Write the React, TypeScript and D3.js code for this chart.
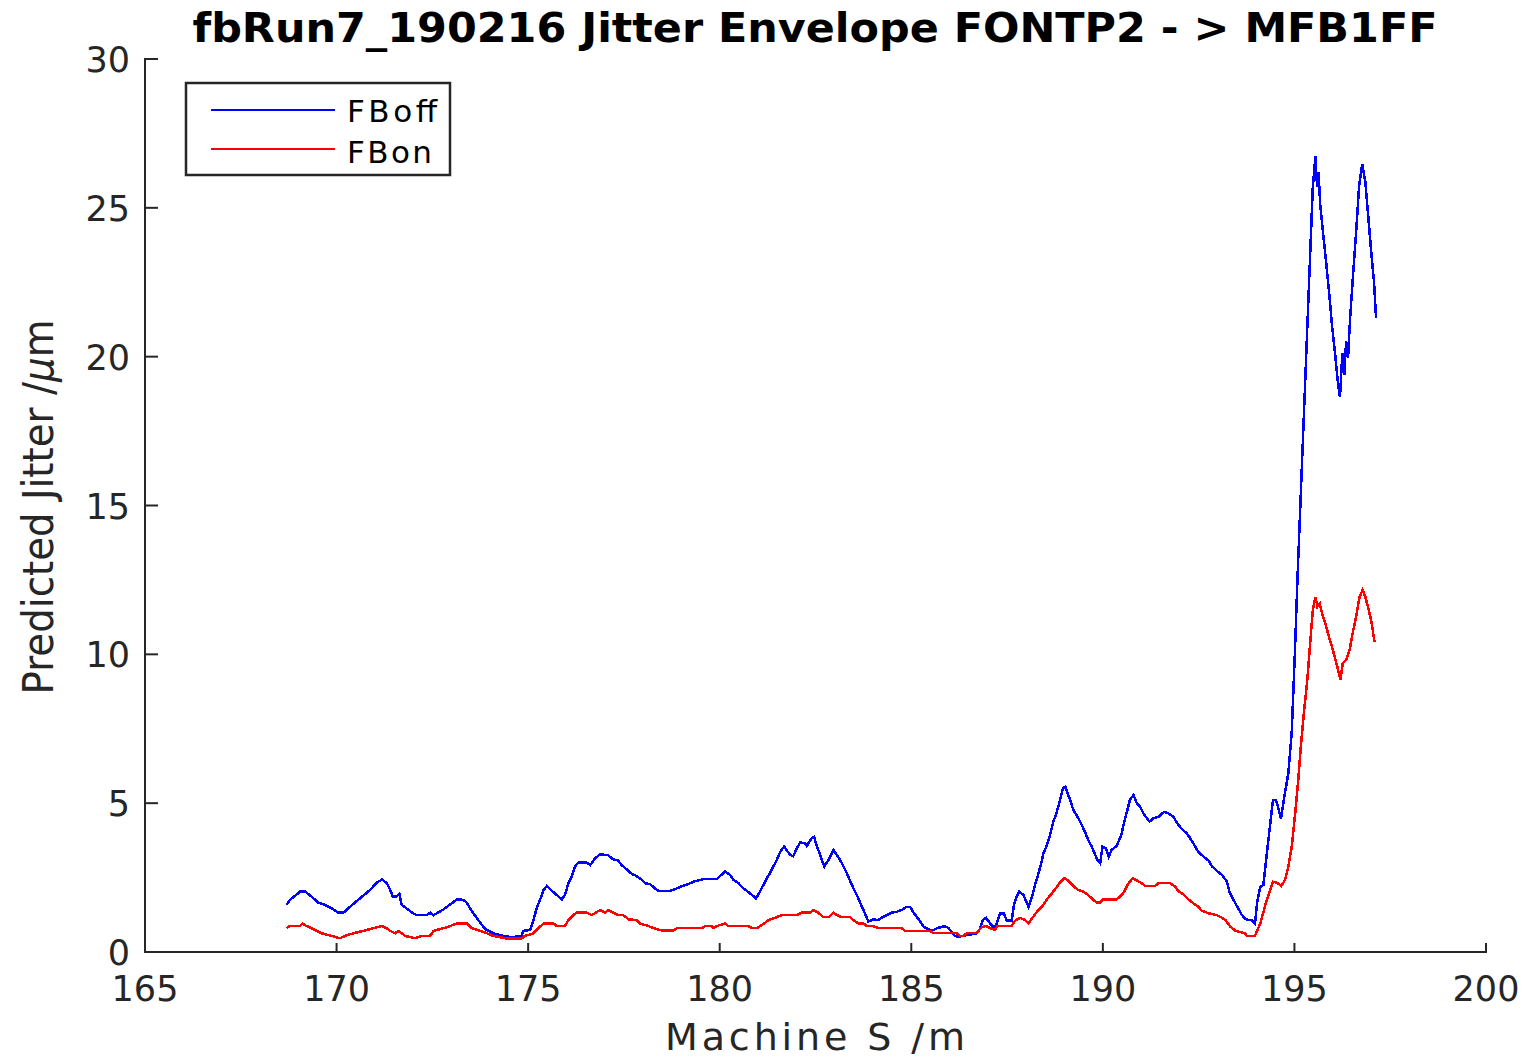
import React from "react";
import * as d3 from "d3";

const title = "fbRun7_190216 Jitter Envelope FONTP2 - > MFB1FF";
const xLabel = "Machine S /m";
const xTicks = [165, 170, 175, 180, 185, 190, 195, 200];
const yTicks = [0, 5, 10, 15, 20, 25, 30];
const seriesNames = ["FBoff", "FBon"];
const seriesColors = ["#0000ff", "#ff0000"];

const fbOff: [number, number][] = [
  [168.70,1.58],[168.78,1.75],[169.05,2.03],[169.18,2.03],[169.35,1.86],[169.52,1.66],[169.70,1.58],[169.87,1.47],[170.05,1.32],[170.18,1.32],[170.35,1.52],[170.61,1.80],[170.87,2.08],[171.05,2.33],[171.19,2.44],[171.31,2.31],[171.38,2.14],[171.47,1.86],[171.55,1.86],[171.64,1.95],[171.70,1.58],[171.79,1.50],[172.00,1.30],[172.09,1.24],[172.35,1.24],[172.44,1.32],[172.53,1.24],[172.79,1.43],[173.01,1.64],[173.14,1.77],[173.31,1.75],[173.40,1.66],[173.48,1.47],[173.70,1.07],[173.83,0.85],[173.92,0.74],[174.09,0.63],[174.35,0.54],[174.58,0.50],[174.83,0.54],[174.87,0.71],[175.05,0.74],[175.14,1.07],[175.22,1.47],[175.31,1.75],[175.40,2.08],[175.49,2.22],[175.57,2.11],[175.75,1.91],[175.88,1.77],[175.96,1.91],[176.05,2.31],[176.14,2.53],[176.22,2.87],[176.31,3.0],[176.53,3.0],[176.62,2.92],[176.75,3.15],[176.88,3.28],[177.09,3.25],[177.22,3.11],[177.35,3.07],[177.44,2.92],[177.57,2.78],[177.70,2.63],[177.83,2.55],[177.97,2.42],[178.05,2.31],[178.18,2.28],[178.31,2.14],[178.40,2.05],[178.70,2.05],[178.83,2.11],[178.97,2.19],[179.18,2.28],[179.31,2.36],[179.57,2.45],[179.92,2.45],[180.01,2.55],[180.14,2.70],[180.27,2.59],[180.36,2.42],[180.49,2.31],[180.62,2.14],[180.79,1.97],[180.95,1.80],[181.05,2.03],[181.14,2.25],[181.23,2.48],[181.31,2.64],[181.40,2.87],[181.49,3.09],[181.58,3.37],[181.68,3.54],[181.84,3.26],[181.92,3.22],[182.01,3.48],[182.10,3.68],[182.23,3.65],[182.27,3.56],[182.40,3.82],[182.46,3.87],[182.53,3.59],[182.62,3.26],[182.73,2.87],[182.84,3.09],[182.97,3.43],[183.06,3.26],[183.19,2.98],[183.32,2.64],[183.45,2.25],[183.58,1.91],[183.71,1.52],[183.79,1.30],[183.88,1.02],[184.01,1.10],[184.14,1.07],[184.23,1.15],[184.36,1.24],[184.49,1.32],[184.62,1.35],[184.75,1.41],[184.88,1.52],[184.97,1.52],[185.06,1.32],[185.19,1.10],[185.32,0.85],[185.54,0.71],[185.67,0.80],[185.88,0.87],[185.97,0.80],[186.06,0.68],[186.14,0.54],[186.23,0.51],[186.50,0.58],[186.72,0.63],[186.80,0.80],[186.87,1.07],[186.95,1.15],[187.06,0.96],[187.17,0.80],[187.23,0.96],[187.32,1.30],[187.42,1.30],[187.49,1.05],[187.62,1.05],[187.68,1.58],[187.75,1.86],[187.82,2.03],[187.93,1.91],[188.02,1.64],[188.06,1.52],[188.15,1.86],[188.23,2.25],[188.32,2.64],[188.39,2.98],[188.45,3.32],[188.54,3.59],[188.62,3.93],[188.71,4.38],[188.80,4.71],[188.87,5.05],[188.96,5.50],[189.02,5.55],[189.13,5.16],[189.23,4.77],[189.34,4.54],[189.45,4.27],[189.54,4.01],[189.62,3.76],[189.71,3.54],[189.80,3.26],[189.86,3.09],[189.93,2.98],[189.99,3.54],[190.08,3.48],[190.15,3.20],[190.23,3.43],[190.36,3.56],[190.48,3.93],[190.56,4.38],[190.64,4.77],[190.71,5.13],[190.80,5.27],[190.89,4.99],[190.97,4.88],[191.06,4.66],[191.15,4.49],[191.22,4.38],[191.32,4.49],[191.45,4.54],[191.60,4.71],[191.71,4.66],[191.84,4.54],[191.97,4.27],[192.09,4.10],[192.19,3.99],[192.28,3.82],[192.36,3.65],[192.49,3.37],[192.63,3.20],[192.76,3.07],[192.84,2.89],[192.97,2.73],[193.11,2.59],[193.24,2.36],[193.30,2.03],[193.41,1.75],[193.51,1.52],[193.63,1.24],[193.71,1.13],[193.80,1.07],[193.89,1.07],[193.97,0.96],[194.03,1.69],[194.11,2.19],[194.19,2.25],[194.28,3.31],[194.37,4.32],[194.44,5.11],[194.52,5.11],[194.58,4.83],[194.65,4.49],[194.73,5.16],[194.84,6.00],[194.93,7.40],[195.01,9.98],[195.08,12.56],[195.16,15.18],[195.24,17.81],[195.32,20.46],[195.40,23.08],[195.48,25.71],[195.55,26.74],[195.59,25.70],[195.63,26.20],[195.67,25.16],[195.75,24.12],[195.83,23.14],[195.91,22.10],[195.98,21.06],[196.06,20.12],[196.14,19.05],[196.19,18.64],[196.25,20.12],[196.30,19.38],[196.35,20.52],[196.40,19.95],[196.45,21.23],[196.53,22.74],[196.61,24.19],[196.69,25.76],[196.77,26.47],[196.85,25.87],[196.92,24.82],[197.00,23.58],[197.08,22.47],[197.13,21.30]
];

const fbOn: [number, number][] = [
  [168.70,0.80],[168.78,0.87],[169.05,0.87],[169.11,0.96],[169.22,0.87],[169.35,0.80],[169.48,0.71],[169.61,0.63],[169.87,0.54],[170.09,0.46],[170.22,0.54],[170.44,0.63],[170.70,0.71],[170.96,0.80],[171.18,0.87],[171.31,0.80],[171.40,0.71],[171.53,0.63],[171.61,0.71],[171.70,0.63],[171.79,0.54],[172.05,0.46],[172.22,0.54],[172.44,0.54],[172.53,0.71],[172.79,0.80],[172.96,0.87],[173.14,0.96],[173.40,0.96],[173.53,0.80],[173.74,0.71],[173.92,0.63],[174.09,0.54],[174.40,0.46],[174.83,0.46],[174.92,0.54],[175.14,0.63],[175.27,0.80],[175.40,0.96],[175.66,0.96],[175.75,0.87],[175.96,0.87],[176.05,1.07],[176.18,1.24],[176.27,1.32],[176.53,1.32],[176.66,1.24],[176.88,1.41],[177.01,1.32],[177.09,1.41],[177.22,1.32],[177.35,1.24],[177.48,1.24],[177.62,1.10],[177.83,1.07],[177.92,0.96],[178.14,0.87],[178.27,0.80],[178.49,0.72],[178.79,0.72],[178.88,0.80],[179.53,0.80],[179.62,0.87],[179.79,0.87],[179.83,0.80],[179.92,0.87],[180.14,0.96],[180.23,0.87],[180.75,0.87],[180.84,0.80],[180.97,0.80],[181.05,0.87],[181.18,0.98],[181.27,1.07],[181.45,1.15],[181.62,1.24],[182.01,1.24],[182.14,1.32],[182.36,1.32],[182.45,1.41],[182.57,1.32],[182.71,1.17],[182.84,1.17],[182.97,1.32],[183.06,1.24],[183.19,1.17],[183.40,1.17],[183.49,1.07],[183.62,0.96],[183.75,0.96],[183.84,0.87],[184.01,0.87],[184.14,0.80],[184.75,0.80],[184.84,0.71],[185.49,0.71],[185.58,0.63],[186.19,0.63],[186.27,0.54],[186.36,0.54],[186.45,0.63],[186.71,0.63],[186.80,0.80],[186.93,0.88],[187.06,0.80],[187.19,0.74],[187.25,0.88],[187.62,0.88],[187.71,1.05],[187.84,1.15],[187.97,1.07],[188.06,0.96],[188.15,1.13],[188.28,1.35],[188.41,1.52],[188.54,1.77],[188.67,1.97],[188.80,2.19],[188.88,2.33],[188.99,2.48],[189.10,2.40],[189.23,2.22],[189.36,2.08],[189.49,2.03],[189.62,1.91],[189.75,1.75],[189.84,1.66],[189.93,1.66],[190.00,1.77],[190.36,1.77],[190.49,1.91],[190.58,2.08],[190.67,2.31],[190.78,2.48],[190.89,2.40],[191.02,2.31],[191.10,2.22],[191.36,2.22],[191.45,2.31],[191.76,2.31],[191.89,2.19],[191.97,2.05],[192.10,1.94],[192.23,1.77],[192.36,1.64],[192.49,1.52],[192.58,1.39],[192.76,1.30],[192.97,1.24],[193.11,1.15],[193.20,1.07],[193.33,0.85],[193.46,0.71],[193.71,0.63],[193.76,0.54],[193.97,0.54],[194.11,0.96],[194.24,1.58],[194.35,2.03],[194.44,2.36],[194.54,2.33],[194.66,2.22],[194.76,2.44],[194.84,2.87],[194.93,3.54],[195.02,4.66],[195.10,5.78],[195.17,6.95],[195.25,8.07],[195.34,9.19],[195.41,10.37],[195.48,11.49],[195.55,11.93],[195.60,11.60],[195.66,11.71],[195.72,11.38],[195.82,10.98],[195.90,10.59],[195.98,10.25],[196.05,9.92],[196.12,9.58],[196.20,9.14],[196.26,9.70],[196.35,9.81],[196.44,10.14],[196.51,10.65],[196.61,11.26],[196.70,11.93],[196.78,12.16],[196.85,11.93],[196.93,11.54],[197.01,11.10],[197.09,10.42]
];

const W = 1528;
const H = 1058;
const axisColor = "#262626";
const font = "'DejaVu Sans', sans-serif";

export default function App() {
  const x = d3.scaleLinear().domain([165, 200]).range([145, 1486]);
  const y = d3.scaleLinear().domain([0, 30]).range([952, 59]);
  const line = d3
    .line<[number, number]>()
    .x((d) => x(d[0]))
    .y((d) => y(d[1]));
  const series = [fbOff, fbOn];
  const legendLen = [90, 85];

  return (
    <svg
      width={W}
      height={H}
      style={{ position: "absolute", left: 0, top: 0, background: "#fff" }}
    >
      <rect x={0} y={0} width={W} height={H} fill="#fff" />
      {/* axes */}
      <line x1={x(165) - 1} x2={x(200) + 1} y1={y(0)} y2={y(0)} stroke={axisColor} strokeWidth={2} />
      <line x1={x(165)} x2={x(165)} y1={y(0) + 1} y2={y(30) - 1} stroke={axisColor} strokeWidth={2} />
      {xTicks.map((t) => (
        <g key={"xt" + t}>
          <line x1={x(t)} x2={x(t)} y1={y(0)} y2={y(0) - 9} stroke={axisColor} strokeWidth={2} />
          <text x={x(t)} y={1001} textAnchor="middle" fontFamily={font} fontSize={35} fill={axisColor}>
            {t}
          </text>
        </g>
      ))}
      {yTicks.map((t) => (
        <g key={"yt" + t}>
          <line x1={x(165)} x2={x(165) + 13} y1={y(t)} y2={y(t)} stroke={axisColor} strokeWidth={2} />
          <text x={130} y={y(t) + 13} textAnchor="end" fontFamily={font} fontSize={35} fill={axisColor}>
            {t}
          </text>
        </g>
      ))}
      {/* data lines */}
      {series.map((s, i) => (
        <path
          key={"s" + i}
          d={line(s) || ""}
          fill="none"
          stroke={seriesColors[i]}
          strokeWidth={2.5}
          strokeLinejoin="miter"
          shapeRendering="crispEdges"
        />
      ))}
      {/* title */}
      <text x={815} y={42} textAnchor="middle" fontFamily={font} fontWeight="bold" fontSize={40} fill="#000" textLength={1245} lengthAdjust="spacingAndGlyphs">
        {title}
      </text>
      {/* x label */}
      <text x={815} y={1050} textAnchor="middle" fontFamily={font} fontSize={38} fill={axisColor} textLength={300} lengthAdjust="spacing">
        {xLabel}
      </text>
      {/* y label */}
      <text
        transform={`translate(53, 507) rotate(-90)`}
        textAnchor="middle"
        fontFamily={font}
        fontSize={42}
        fill={axisColor}
        textLength={375}
        lengthAdjust="spacingAndGlyphs"
      >
        Predicted Jitter /<tspan fontStyle="italic">μ</tspan>m
      </text>
      {/* legend */}
      <rect x={186} y={83} width={264} height={92} fill="#fff" stroke={axisColor} strokeWidth={2.5} />
      {seriesNames.map((n, i) => (
        <g key={"lg" + i}>
          <line x1={211} x2={335} y1={110 + i * 39} y2={110 + i * 39} stroke={seriesColors[i]} strokeWidth={2} />
          <text x={347} y={122 + i * 41} fontFamily={font} fontSize={31} fill="#000" textLength={legendLen[i]} lengthAdjust="spacing">
            {n}
          </text>
        </g>
      ))}
    </svg>
  );
}
